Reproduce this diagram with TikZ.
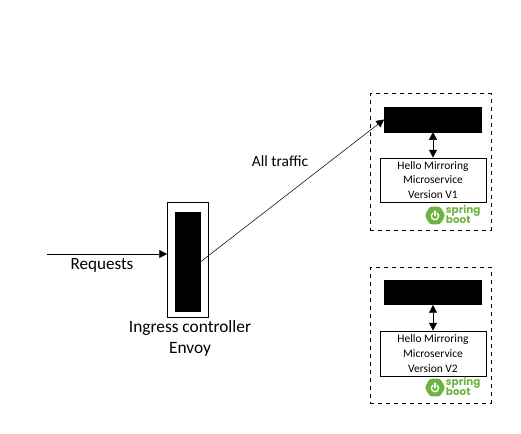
\documentclass[tikz,border=0pt]{standalone}
\usepackage{fontspec}
\setmainfont{Carlito}
\newfontfamily\springfont{Poppins}
\usepackage{tikz}
\usetikzlibrary{calc, positioning, arrows.meta, shapes.geometric}
\usepackage{xcolor}
\definecolor{springGreen}{RGB}{109, 179, 63}
\newcommand{\springlogo}[2]{%
  \node[regular polygon, regular polygon sides=6, fill=springGreen, rounded corners=2pt, minimum size=15.5pt, inner sep=0pt] (#1) at #2 {};
  \draw[white, line width=1pt, line cap=round] ($(#1)+(-1.65pt,1.75pt)$) arc (127:413:2.75pt);
  \draw[white, line width=1pt, line cap=round] ($(#1)+(0,3.3pt)$) -- ($(#1)+(0,-0.2pt)$);
  \node[springtext, anchor=west] (#1s) at ($(#1)+(8pt,3.2pt)$) {spring};
  \node[springtext, anchor=west] (#1b) at ($(#1)+(8pt,-3pt)$) {boot};
}
\begin{document}
\begin{tikzpicture}[x=0.75pt, y=-0.75pt, font=\fontsize{11.6pt}{13pt}\selectfont, >={Triangle[length=5.8pt,width=6pt]},
    blackbox/.style={draw=black, fill=black, inner sep=0pt},
    podbox/.style={draw=black, dashed, line width=0.6pt, inner sep=0pt},
    appbox/.style={draw=black, fill=white, line width=0.7pt, inner sep=0pt, align=center,
      font=\fontsize{8.6pt}{11.2pt}\selectfont},
    springtext/.style={text=springGreen, inner sep=0pt, font=\springfont\bfseries\fontsize{7.8pt}{7pt}\selectfont}]
  \useasboundingbox (0, 0) rectangle (521, 433);
  % Ingress on the left
  \node[draw, line width=0.7pt, inner sep=0pt, minimum width=30.75pt, minimum height=86.25pt] (ingress) at (188, 259.5) {};
  \node[blackbox, minimum width=19pt, minimum height=74pt] (ingresscore) at (188, 261.5) {};
  \node (ingresslabel) at (190, 338.5) [align=center, font=\fontsize{13pt}{15.75pt}\selectfont] {Ingress controller\\Envoy};
  \coordinate (reqstart) at (47, 254);
  \draw[->] (reqstart) -- (reqstart -| ingress.west);
  \node[font=\fontsize{12.8pt}{15pt}\selectfont] (reqlabel) at (102, 265) {Requests};
  % Version 1
  \node[podbox, minimum width=90.5pt, minimum height=102.4pt] (pod1) at (430.75, 161.75) {};
  \node[blackbox, minimum width=73pt, minimum height=18.5pt] (proxy1) at (433, 119.5) {};
  \node[appbox, minimum width=79.5pt, minimum height=33pt] (app1) at (433, 180)
    {Hello Mirroring\\Microservice\\Version V1};
  \draw[<->] (proxy1) -- (app1);
  \springlogo{logo1}{(435, 215.5)}
  % Version 2
  \node[podbox, minimum width=90.5pt, minimum height=102pt] (pod2) at (430.75, 335) {};
  \node[blackbox, minimum width=73pt, minimum height=18.5pt] (proxy2) at (433, 292.4) {};
  \node[appbox, minimum width=79.5pt, minimum height=33.75pt] (app2) at (433, 353.5)
    {Hello Mirroring\\Microservice\\Version V2};
  \draw[<->] (proxy2) -- (app2);
  \springlogo{logo2}{(435, 387.5)}
  % Traffic goes to V1 only
  \draw[->] (ingresscore.east) -- (proxy1.west);
  \node (trafficlabel) at (280, 161) {All traffic};
\end{tikzpicture}
\end{document}
